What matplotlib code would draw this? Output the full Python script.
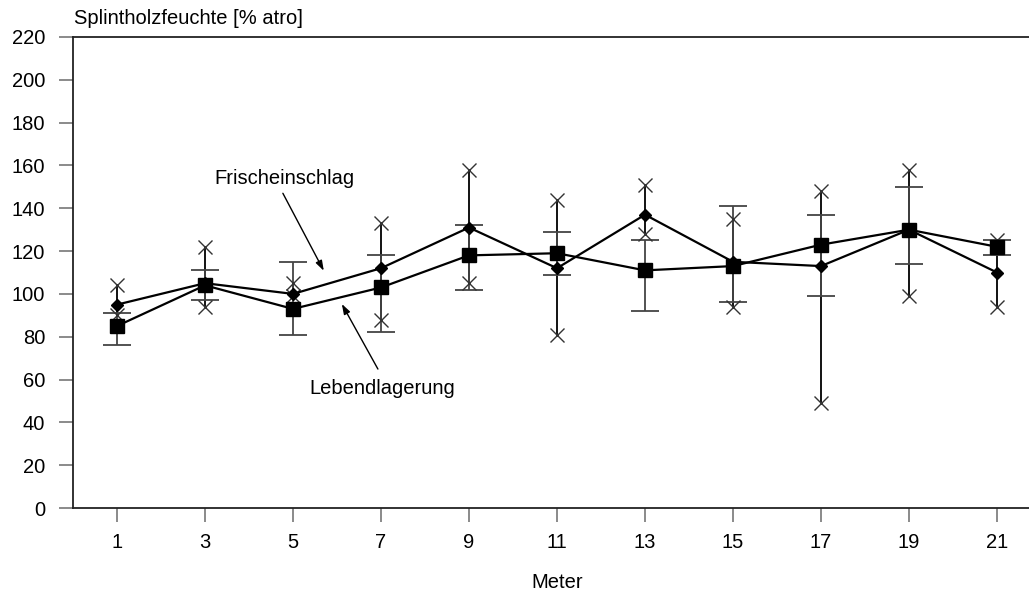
import matplotlib
matplotlib.use("Agg")
import matplotlib.pyplot as plt

plt.rcParams['font.family'] = ['Liberation Sans', 'DejaVu Sans']

meter = [1, 3, 5, 7, 9, 11, 13, 15, 17, 19, 21]

frisch_mean = [95, 105, 100, 112, 131, 112, 137, 115, 113, 130, 110]
frisch_max = [104, 122, 105, 133, 158, 144, 151, 135, 148, 158, 125]
frisch_min = [90, 94, 99, 88, 105, 81, 128, 94, 49, 99, 94]

lebend_mean = [85, 104, 93, 103, 118, 119, 111, 113, 123, 130, 122]
lebend_upper = [91, 111, 115, 118, 132, 129, 125, 141, 137, 150, 125]
lebend_lower = [76, 97, 81, 82, 102, 109, 92, 96, 99, 114, 118]

yticks = list(range(0, 221, 20))

FS = 14.5

fig = plt.figure(figsize=(10.29, 5.99), dpi=100)
ax = fig.add_axes([73/1029, 91/599, 968/1029, 471/599])

# Frischeinschlag: vertical range line with X markers at extremes
ax.vlines(meter, frisch_min, frisch_max, color='black', lw=1.3, zorder=2)
ax.plot(meter, frisch_max, linestyle='none', marker='x', ms=10, mew=1.0, color='#333333', zorder=3)
ax.plot(meter, frisch_min, linestyle='none', marker='x', ms=10, mew=1.0, color='#333333', zorder=3)
ax.plot(meter, frisch_mean, color='black', lw=1.6, marker='D', ms=6.5, zorder=4)

# Lebendlagerung: error bars with caps
yerr = [[m - l for m, l in zip(lebend_mean, lebend_lower)],
        [u - m for m, u in zip(lebend_mean, lebend_upper)]]
ax.errorbar(meter, lebend_mean, yerr=yerr, fmt='none', ecolor='#444444',
            elinewidth=1.3, capsize=10, capthick=1.3, zorder=2)
ax.plot(meter, lebend_mean, color='black', lw=1.6, marker='s', ms=10, zorder=5)

ax.set_xlim(0, 22)
ax.set_ylim(0, 220)
ax.set_xticks(meter)
ax.set_yticks(yticks)
ax.tick_params(axis='both', direction='out', length=10, width=1.2, color='#777777',
               labelsize=FS, labelcolor='black')
ax.tick_params(axis='y', pad=10)
ax.tick_params(axis='x', pad=8)
for s in ['left', 'bottom', 'top']:
    ax.spines[s].set_linewidth(1.3)
    ax.spines[s].set_color('#222222')
ax.spines['right'].set_visible(False)

fig.text(557/1029, 1 - 583/599, 'Meter', fontsize=FS, ha='center', va='center')
fig.text(74/1029, 1 - 19/599, 'Splintholzfeuchte [% atro]', fontsize=FS,
         ha='left', va='center')

ax.text(4.81, 153.7, 'Frischeinschlag', fontsize=FS, ha='center', va='center')
ax.annotate('', xy=(5.70, 110.8), xytext=(4.77, 147.0),
            arrowprops=dict(arrowstyle='-|>,head_length=0.6,head_width=0.2',
                            color='black', lw=1.0, shrinkA=0, shrinkB=0))
ax.text(7.03, 56.0, 'Lebendlagerung', fontsize=FS, ha='center', va='center')
ax.annotate('', xy=(6.11, 95.3), xytext=(6.93, 64.9),
            arrowprops=dict(arrowstyle='-|>,head_length=0.6,head_width=0.2',
                            color='black', lw=1.0, shrinkA=0, shrinkB=0))

fig.savefig('out.png', dpi=100)
